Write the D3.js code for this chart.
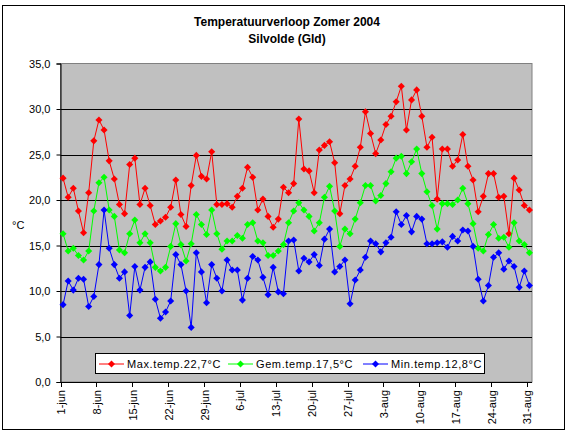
<!DOCTYPE html>
<html>
<head>
<meta charset="utf-8">
<script src="https://cdn.jsdelivr.net/npm/d3@7"></script>
<style>
  body { margin: 0; background: #fff; }
  svg text { font-family: "Liberation Sans", Arial, sans-serif; }
</style>
</head>
<body>
<svg id="chart" width="570" height="435"></svg>
<script>
// categories: every day from 1-jun to 31-aug
const months = [["jun", 30], ["jul", 31], ["aug", 31]];
const days = [];
months.forEach(([m, n]) => { for (let d = 1; d <= n; d++) days.push(d + "-" + m); });

const tickLabels = ["1-jun", "8-jun", "15-jun", "22-jun", "29-jun", "6-jul", "13-jul",
  "20-jul", "27-jul", "3-aug", "10-aug", "17-aug", "24-aug", "31-aug"];

const maxTemp = [22.4, 20.3, 21.3, 18.8, 16.4, 20.8, 26.5, 28.8, 27.7, 24.3, 22.3, 19.5, 18.5, 23.9, 24.6, 19.5,
  21.3, 19.4, 17.3, 17.7, 18.1, 19.2, 22.2, 18.4, 17.1, 21.6, 24.9, 22.6, 22.3, 25.3, 19.5, 19.5,
  19.6, 19.2, 20.4, 21.3, 23.6, 22.5, 18.9, 20.1, 18.2, 17.0, 17.9, 21.4, 20.8, 21.8, 28.9, 23.4,
  23.2, 20.8, 25.5, 26.0, 26.4, 24.1, 18.5, 21.6, 22.3, 23.7, 25.8, 29.7, 27.3, 25.1, 26.6, 28.3,
  29.2, 30.8, 32.5, 27.7, 31.0, 32.1, 29.2, 25.8, 26.9, 20.1, 25.6, 25.6, 23.7, 24.4, 27.2, 23.7,
  22.2, 18.7, 20.4, 22.9, 22.9, 20.3, 20.4, 16.3, 22.4, 21.1, 19.4, 18.9];

const gemTemp = [16.3, 14.4, 14.7, 13.9, 13.4, 14.4, 18.8, 21.9, 22.5, 18.9, 18.2, 14.5, 14.2, 16.3, 17.8, 15.3,
  16.3, 15.3, 12.6, 12.2, 12.6, 14.9, 17.4, 15.1, 13.3, 15.2, 18.4, 17.3, 16.2, 18.9, 16.3, 14.6,
  15.5, 15.5, 16.1, 15.8, 17.3, 17.5, 15.5, 15.3, 13.9, 13.9, 14.4, 15.1, 17.5, 18.8, 19.7, 18.9,
  18.2, 16.6, 17.5, 20.3, 21.5, 18.8, 14.9, 16.8, 16.3, 17.9, 19.7, 21.6, 21.6, 19.9, 20.5, 21.8,
  23.1, 24.6, 24.8, 22.9, 24.2, 25.6, 22.9, 20.9, 19.4, 16.8, 19.6, 19.6, 19.5, 20.0, 21.3, 19.6,
  17.4, 14.7, 14.4, 16.2, 17.3, 15.8, 15.9, 14.8, 17.5, 15.5, 15.1, 14.2];

const minTemp = [8.5, 11.1, 10.1, 11.4, 11.3, 8.3, 9.4, 12.9, 18.9, 14.7, 12.9, 11.4, 12.1, 7.3, 12.7, 10.1,
  12.6, 13.2, 9.1, 7.0, 7.7, 8.9, 14.0, 12.9, 10.0, 6.0, 14.2, 12.1, 8.7, 12.9, 11.4, 10.0,
  13.4, 12.3, 12.3, 9.0, 11.4, 13.8, 13.4, 11.5, 9.6, 12.6, 9.9, 9.7, 15.5, 15.6, 12.2, 13.6,
  13.2, 14.0, 12.8, 15.7, 16.8, 12.1, 12.7, 13.4, 8.6, 11.2, 12.3, 13.7, 15.5, 15.2, 14.3, 15.3,
  15.9, 18.7, 17.3, 18.3, 16.5, 18.2, 17.9, 15.2, 15.2, 15.3, 15.4, 14.8, 16.0, 15.5, 16.7, 16.6,
  14.9, 11.3, 8.9, 10.6, 13.7, 14.2, 12.4, 13.3, 12.7, 10.4, 12.2, 10.6];

const seriesNames = ["Max.temp.22,7°C", "Gem.temp.17,5°C", "Min.temp.12,8°C"];
const seriesColors = ["#ff0000", "#00ff00", "#0000ff"];
const yTicks = [0, 5, 10, 15, 20, 25, 30, 35];

const svg = d3.select("#chart");

// outer chart frame
svg.append("rect")
  .attr("x", 2.5).attr("y", 5.5).attr("width", 562).attr("height", 424)
  .attr("fill", "#fff").attr("stroke", "#000").attr("stroke-width", 1);

const plot = { left: 60.5, right: 532, top: 63.5, bottom: 382 };

const x = d3.scaleBand().domain(days).range([plot.left, plot.right]);
const y = d3.scaleLinear().domain([0, 35]).range([plot.bottom, plot.top]);
const cx = d => x(d) + x.bandwidth() / 2;

// plot area
svg.append("rect")
  .attr("x", plot.left).attr("y", plot.top)
  .attr("width", plot.right - plot.left).attr("height", plot.bottom - plot.top)
  .attr("fill", "#c0c0c0").attr("stroke", "#808080");

// gridlines
svg.append("g")
  .selectAll("line")
  .data(yTicks.filter(v => v > 0 && v < 35))
  .join("line")
  .attr("x1", plot.left).attr("x2", plot.right)
  .attr("y1", d => Math.round(y(d)) + 0.5).attr("y2", d => Math.round(y(d)) + 0.5)
  .attr("stroke", "#000");

// y axis
const yAxis = svg.append("g")
  .attr("transform", `translate(${plot.left},0)`)
  .call(d3.axisLeft(y).tickValues(yTicks).tickSize(4).tickPadding(6)
    .tickFormat(d => d3.format(".1f")(d).replace(".", ",")));
yAxis.selectAll("text").attr("font-size", 11).attr("fill", "#000")
  .attr("font-family", "'Liberation Sans', Arial, sans-serif");
yAxis.selectAll("path, line").attr("stroke", "#000");

svg.append("text")
  .attr("x", 12).attr("y", 229)
  .attr("font-size", 11).text("°C");

// x axis
const xAxis = svg.append("g")
  .attr("transform", `translate(0,${plot.bottom})`);
xAxis.append("line")
  .attr("x1", plot.left).attr("x2", plot.right)
  .attr("y1", 0.5).attr("y2", 0.5).attr("stroke", "#000");
xAxis.selectAll(".tick")
  .data(tickLabels)
  .join("line")
  .attr("class", "tick")
  .attr("x1", d => Math.round(x(d)) + 0.5).attr("x2", d => Math.round(x(d)) + 0.5)
  .attr("y1", 0).attr("y2", 5).attr("stroke", "#000");
xAxis.selectAll(".lbl")
  .data(tickLabels)
  .join("text")
  .attr("class", "lbl")
  .attr("font-size", 11)
  .attr("text-anchor", "end")
  .attr("transform", d => `translate(${x(d) + 4.5},8) rotate(-90)`)
  .text(d => d);

// series
const series = [maxTemp, gemTemp, minTemp];
const line = d3.line().x((v, i) => cx(days[i])).y(v => y(v));
// Excel style diamond: square turned 45 degrees, about 7px across
const diamond = d3.symbol().type(d3.symbolSquare).size(25);

series.forEach((vals, s) => {
  svg.append("path")
    .datum(vals)
    .attr("d", line)
    .attr("fill", "none")
    .attr("stroke", seriesColors[s])
    .attr("stroke-width", 1);
  svg.append("g")
    .selectAll("path")
    .data(vals)
    .join("path")
    .attr("transform", (v, i) => `translate(${cx(days[i])},${y(v)}) rotate(45)`)
    .attr("d", diamond)
    .attr("fill", seriesColors[s]);
});

// legend
const legend = svg.append("g");
legend.append("rect")
  .attr("x", 95.5).attr("y", 353.5).attr("width", 389).attr("height", 20)
  .attr("fill", "#fff").attr("stroke", "#000");
const legX = [99, 228, 363];
seriesNames.forEach((name, s) => {
  const g = legend.append("g").attr("transform", `translate(${legX[s]},364)`);
  g.append("line").attr("x1", 0).attr("x2", 25).attr("y1", 0).attr("y2", 0)
    .attr("stroke", seriesColors[s]);
  g.append("path").attr("transform", "translate(12.5,0) rotate(45)").attr("d", diamond)
    .attr("fill", seriesColors[s]);
  g.append("text").attr("x", 28).attr("y", 4).attr("font-size", 11)
    .attr("letter-spacing", 0.6).text(name);
});

// title
svg.append("text")
  .attr("x", 287).attr("y", 26).attr("text-anchor", "middle")
  .attr("font-size", 12).attr("font-weight", "bold")
  .text("Temperatuurverloop Zomer 2004");
svg.append("text")
  .attr("x", 287).attr("y", 43).attr("text-anchor", "middle")
  .attr("font-size", 12).attr("font-weight", "bold")
  .text("Silvolde (Gld)");
</script>
</body>
</html>
